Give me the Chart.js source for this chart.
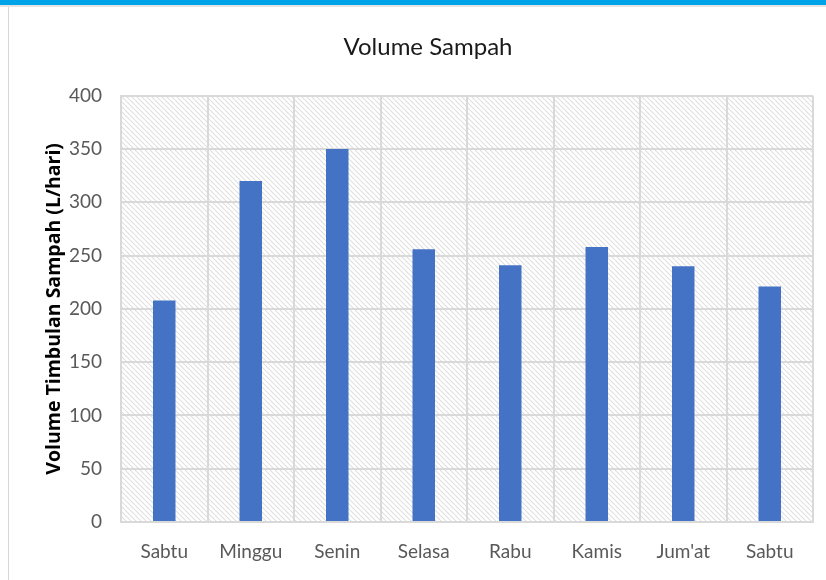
<!DOCTYPE html>
<html>
<head>
<meta charset="utf-8">
<script src="https://cdn.jsdelivr.net/npm/chart.js@4/dist/chart.umd.min.js"></script>
<style>
  html, body { margin: 0; padding: 0; background: #ffffff; }
  #wrap { position: relative; width: 826px; height: 580px; overflow: hidden; }
  #topband { position: absolute; left: 0; top: 0; width: 826px; height: 5px; background: #00a2e8; }
  #topshade { position: absolute; left: 0; top: 5px; width: 826px; height: 2px; background: #e4e4e4; }
  #leftline { position: absolute; left: 8px; top: 7px; width: 1px; height: 573px; background: #d6d6d6; }
  canvas { position: absolute; left: 0; top: 0; }
</style>
</head>
<body>
<div id="wrap">
  <canvas id="c" width="826" height="580"></canvas>
  <div id="topband"></div>
  <div id="topshade"></div>
  <div id="leftline"></div>
</div>
<script>
const categories = ["Sabtu", "Minggu", "Senin", "Selasa", "Rabu", "Kamis", "Jum'at", "Sabtu"];
const volumeValues = [208, 320, 350, 256, 241, 258, 240, 221];
const chartTitle = "Volume Sampah";
const yAxisTitle = "Volume Timbulan Sampah (L/hari)";
const yTickMin = 0;
const yTickMax = 400;
const yTickStep = 50;

function makeHatch() {
  const n = 5;
  const pc = document.createElement('canvas');
  pc.width = n; pc.height = n;
  const p = pc.getContext('2d');
  p.fillStyle = '#ffffff';
  p.fillRect(0, 0, n, n);
  p.strokeStyle = '#dedede';
  p.lineWidth = 1.1;
  for (const k of [-n, 0, n]) {
    p.beginPath();
    p.moveTo(k, 0);
    p.lineTo(k + n, n);
    p.stroke();
  }
  return pc;
}
const hatchCanvas = makeHatch();

const hatchBg = {
  id: 'hatchBg',
  beforeDraw(chart) {
    const { ctx, chartArea: a } = chart;
    ctx.save();
    ctx.fillStyle = ctx.createPattern(hatchCanvas, 'repeat');
    ctx.fillRect(a.left, a.top, a.right - a.left, a.bottom - a.top);
    ctx.restore();
  }
};

const labelFont = "Lato, 'Liberation Sans', sans-serif";

new Chart(document.getElementById('c'), {
  type: 'bar',
  data: {
    labels: categories,
    datasets: [{
      data: volumeValues,
      backgroundColor: '#4472c4',
      borderWidth: 0,
      barPercentage: 0.26,
      categoryPercentage: 1.0
    }]
  },
  options: {
    responsive: false,
    animation: false,
    layout: { padding: { left: 43, right: 13, top: 0, bottom: 0 } },
    plugins: {
      legend: { display: false },
      tooltip: { enabled: false },
      title: {
        display: true,
        text: chartTitle,
        color: '#1a1a1a',
        font: { family: labelFont, size: 24, weight: 'normal' },
        padding: { top: 33, bottom: 34 }
      }
    },
    scales: {
      x: {
        grid: { display: true, color: '#d9d9d9', lineWidth: 2, drawTicks: false, offset: true },
        border: { display: true, color: '#d9d9d9', width: 2 },
        ticks: { color: '#595959', font: { family: labelFont, size: 19 }, padding: 18, maxRotation: 0, autoSkip: false },
        afterFit(scale) { scale.height = 58; }
      },
      y: {
        min: yTickMin,
        max: yTickMax,
        ticks: { stepSize: yTickStep, color: '#595959', font: { family: labelFont, size: 19 }, padding: 19 },
        grid: { color: '#d9d9d9', lineWidth: 2, drawTicks: false },
        border: { display: true, color: '#d9d9d9', width: 2 },
        title: {
          display: true,
          text: yAxisTitle,
          color: '#000000',
          font: { family: "'Open Sans', 'DejaVu Sans', sans-serif", size: 19.5, weight: 'bold' },
          padding: { top: 0, bottom: 0 }
        },
        afterFit(scale) { scale.width = 78; }
      }
    }
  },
  plugins: [hatchBg]
});
</script>
</body>
</html>
